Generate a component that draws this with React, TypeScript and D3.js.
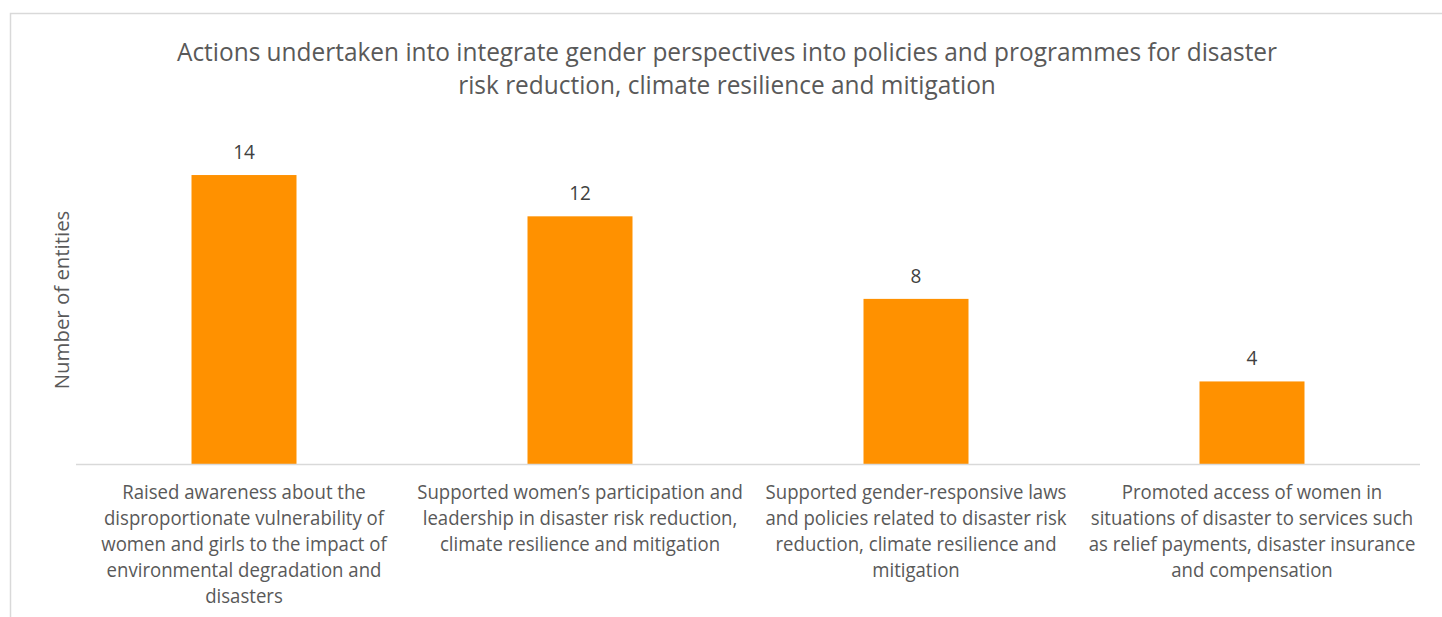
import React, { useEffect, useRef } from 'react';
import * as d3 from 'd3';

const title = [
  'Actions undertaken into integrate gender perspectives into policies and programmes for disaster',
  'risk reduction, climate resilience and mitigation',
];
const yTitle = 'Number of entities';

const categories = [
  ['Raised awareness about the', 'disproportionate vulnerability of', 'women and girls to the impact of', 'environmental degradation and', 'disasters'],
  ['Supported women\u2019s participation and', 'leadership in disaster risk reduction,', 'climate resilience and mitigation'],
  ['Supported gender-responsive laws', 'and policies related to disaster risk', 'reduction, climate resilience and', 'mitigation'],
  ['Promoted access of women in', 'situations of disaster to services such', 'as relief payments, disaster insurance', 'and compensation'],
];
const values = [14, 12, 8, 4];

const FONT = '"Open Sans", "Noto Sans", sans-serif';

const App: React.FC = () => {
  const svgRef = useRef<SVGSVGElement>(null);

  useEffect(() => {
    if (!svgRef.current) return;
    const svg = d3.select(svgRef.current);
    svg.selectAll('*').remove();

    const W = 1442, H = 617;
    const plot = { left: 76, right: 1420, base: 464 };

    // chart frame
    svg.append('rect')
       .attr('x', 10.5).attr('y', 13.5)
       .attr('width', 1450).attr('height', 640)
       .attr('fill', '#fff').attr('stroke', '#d9d9d9').attr('stroke-width', 1.5);

    const x = d3.scaleBand<number>()
                .domain(values.map((_, i) => i))
                .range([plot.left, plot.right])
                .padding(0);
    const barW = x.bandwidth() * 0.3125;

    const y = d3.scaleLinear()
                .domain([0, 16])
                .range([plot.base, plot.base - 16 * 20.64]);

    // title
    title.forEach((line, i) => {
      svg.append('text')
         .attr('transform', `translate(727,${61 + i * 33}) scale(0.94,1)`)
         .attr('text-anchor', 'middle')
         .attr('font-family', FONT)
         .attr('font-size', 26)
         .attr('fill', '#595959')
         .text(line);
    });

    // y axis title
    svg.append('text')
       .attr('transform', `translate(69,300) rotate(-90) scale(1.02,1)`)
       .attr('text-anchor', 'middle')
       .attr('font-family', FONT)
       .attr('font-size', 20)
       .attr('fill', '#595959')
       .text(yTitle);

    // bars
    svg.selectAll('.bar')
       .data(values)
       .enter()
       .append('rect')
       .attr('class', 'bar')
       .attr('x', (_, i) => (x(i) || 0) + x.bandwidth() / 2 - barW / 2)
       .attr('y', d => y(d))
       .attr('width', barW)
       .attr('height', d => y(0) - y(d))
       .attr('fill', '#FF9100');

    // baseline
    svg.append('line')
       .attr('x1', plot.left).attr('x2', plot.right)
       .attr('y1', y(0) + 0.5).attr('y2', y(0) + 0.5)
       .attr('stroke', '#d9d9d9').attr('stroke-width', 1.5);

    // data labels
    svg.selectAll('.val')
       .data(values)
       .enter()
       .append('text')
       .attr('class', 'val')
       .attr('transform', (d, i) => `translate(${(x(i) || 0) + x.bandwidth() / 2},${y(d) - 16}) scale(0.95,1)`)
       .attr('text-anchor', 'middle')
       .attr('font-family', FONT)
       .attr('font-size', 20)
       .attr('fill', '#404040')
       .text(d => d);

    // category labels
    categories.forEach((lines, i) => {
      const cx = (x(i) || 0) + x.bandwidth() / 2;
      lines.forEach((line, j) => {
        svg.append('text')
           .attr('transform', `translate(${cx},${499 + j * 26}) scale(0.93,1)`)
           .attr('text-anchor', 'middle')
           .attr('font-family', FONT)
           .attr('font-size', 20)
           .attr('fill', '#595959')
           .text(line);
      });
    });

    svg.attr('width', W).attr('height', H);
  }, []);

  return (
    <svg ref={svgRef} width={1442} height={617}
         style={{ position: 'absolute', left: 0, top: 0, background: '#fff' }} />
  );
};

export default App;
